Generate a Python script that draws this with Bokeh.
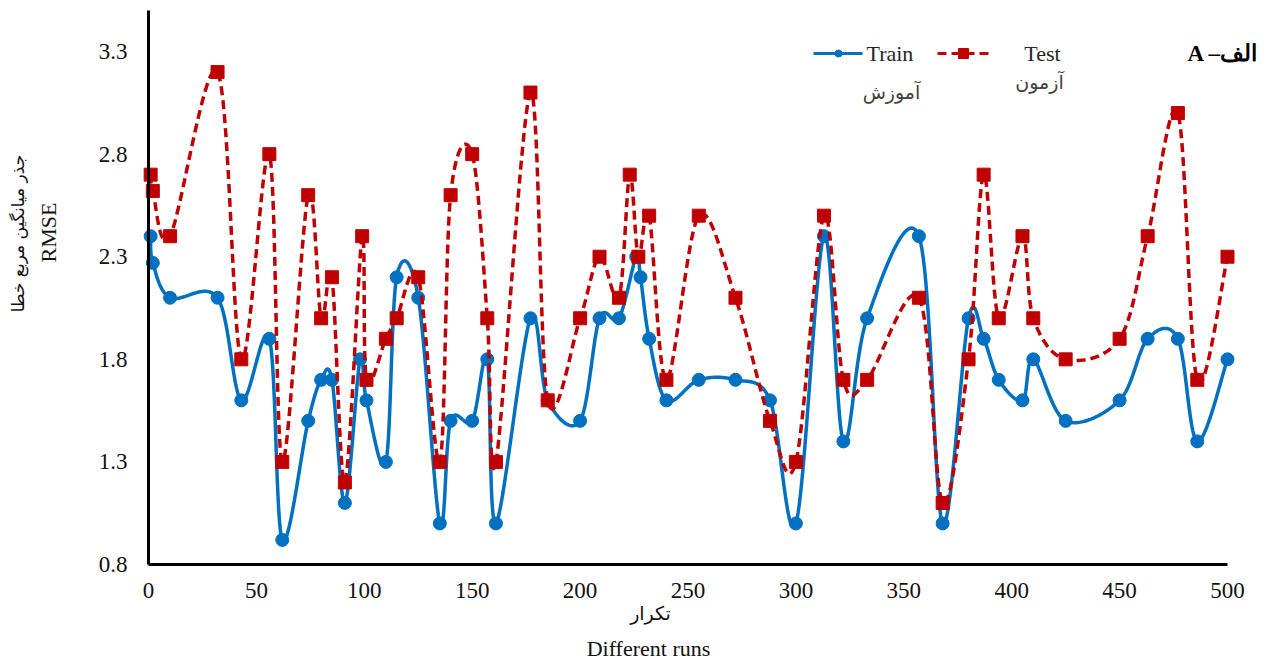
import numpy as np
from bokeh.plotting import figure
from bokeh.models import Range1d, FixedTicker, Label
from bokeh.embed import file_html
from bokeh.resources import INLINE

# ---------------- data ----------------
train_x = [1, 2, 10, 32, 43, 56, 62, 74, 80, 85, 91, 98, 101, 110, 115, 125, 135, 140, 150, 157,
           161, 177, 185, 200, 209, 218, 226, 228, 232, 240, 255, 272, 288, 300, 313, 322, 333, 357, 368, 380,
           387, 394, 405, 410, 425, 450, 463, 477, 486, 500]
train_y = [2.4, 2.27, 2.1, 2.1, 1.6, 1.9, 0.92, 1.5, 1.7, 1.7, 1.1, 1.8, 1.6, 1.3, 2.2, 2.1, 1.0, 1.5, 1.5, 1.8,
           1.0, 2.0, 1.6, 1.5, 2.0, 2.0, 2.3, 2.2, 1.9, 1.6, 1.7, 1.7, 1.6, 1.0, 2.4, 1.4, 2.0, 2.4, 1.0, 2.0,
           1.9, 1.7, 1.6, 1.8, 1.5, 1.6, 1.9, 1.9, 1.4, 1.8]
test_x = [1, 2, 10, 32, 43, 56, 62, 74, 80, 85, 91, 99, 101, 110, 115, 125, 135, 140, 150, 157,
          161, 177, 185, 200, 209, 218, 223, 227, 232, 240, 255, 272, 288, 300, 313, 322, 333, 357, 368, 380,
          387, 394, 405, 410, 425, 450, 463, 477, 486, 500]
test_y = [2.7, 2.62, 2.4, 3.2, 1.8, 2.8, 1.3, 2.6, 2.0, 2.2, 1.2, 2.4, 1.7, 1.9, 2.0, 2.2, 1.3, 2.6, 2.8, 2.0,
          1.3, 3.1, 1.6, 2.0, 2.3, 2.1, 2.7, 2.3, 2.5, 1.7, 2.5, 2.1, 1.5, 1.3, 2.5, 1.7, 1.7, 2.1, 1.1, 1.8,
          2.7, 2.0, 2.4, 2.0, 1.8, 1.9, 2.4, 3.0, 1.7, 2.3]
x_ticks = [0, 50, 100, 150, 200, 250, 300, 350, 400, 450, 500]
y_ticks = [0.8, 1.3, 1.8, 2.3, 2.8, 3.3]
y_tick_labels = ["0.8", "1.3", "1.8", "2.3", "2.8", "3.3"]

series_train = "Train"
series_train_fa = "آموزش"
series_test = "Test"
series_test_fa = "آزمون"
x_title_fa = "تکرار"
x_title = "Different runs"
y_title_fa = "جذر میانگین مربع خطا"
y_title = "RMSE"
panel_label = "A –الف"

# ---------------- style / layout ----------------
BLUE = "#0070C0"
RED = "#C00000"
SERIF = "Liberation Serif"
ARAB = "DejaVu Sans"

X0, X1 = 0, 500          # axis extent
Y0, Y1 = 0.8, 3.5
ORG = 0                  # page offset of the figure (Bokeh page has no body margin)
W, H = 1267, 666         # figure size (whole figure is the frame)
AX_LEFT, AX_RIGHT = 148, 1227   # page pixels of axis extent
AX_TOP, AX_BOTTOM = 10, 564

KX = (X1 - X0) / (AX_RIGHT - AX_LEFT)
KY = (Y1 - Y0) / (AX_BOTTOM - AX_TOP)


def px(page_x):
    return X0 + (page_x - AX_LEFT) * KX


def py(page_y):
    return Y0 + (AX_BOTTOM - page_y) * KY


def smooth(xs, ys, n=24):
    P = np.column_stack([xs, ys]).astype(float)
    out = []
    m = len(P)
    for i in range(m - 1):
        p0 = P[i - 1] if i > 0 else P[i]
        p1, p2 = P[i], P[i + 1]
        p3 = P[i + 2] if i + 2 < m else P[i + 1]
        c1 = p1 + (p2 - p0) / 6.0
        c2 = p2 - (p3 - p1) / 6.0
        t = np.linspace(0, 1, n, endpoint=(i == m - 2))[:, None]
        seg = (1 - t) ** 3 * p1 + 3 * (1 - t) ** 2 * t * c1 + 3 * (1 - t) * t ** 2 * c2 + t ** 3 * p2
        out.append(seg)
    s = np.vstack(out)
    return s[:, 0], s[:, 1]


p = figure(frame_width=W, frame_height=H, output_backend="svg", toolbar_location=None,
           x_range=Range1d(px(ORG), px(ORG + W)), y_range=Range1d(py(ORG + H), py(ORG)),
           min_border=0, min_border_left=0, min_border_right=0, min_border_top=0, min_border_bottom=0)
p.outline_line_color = None
p.grid.visible = False
p.background_fill_color = "white"
p.border_fill_color = "white"

for ax in (p.xaxis[0], p.yaxis[0]):
    ax.axis_line_color = "black"
    ax.axis_line_width = 3
    ax.major_tick_line_color = None
    ax.minor_tick_line_color = None
    ax.major_label_text_font = SERIF
    ax.major_label_text_font_size = "23px"
    ax.major_label_text_color = "#111111"

p.xaxis[0].ticker = FixedTicker(ticks=x_ticks)
p.xaxis[0].bounds = (X0, X1)
p.xaxis[0].fixed_location = Y0
p.xaxis[0].major_label_standoff = 12
p.yaxis[0].ticker = FixedTicker(ticks=y_ticks)
p.yaxis[0].bounds = (Y0, Y1)
p.yaxis[0].fixed_location = X0
p.yaxis[0].major_label_overrides = {t: l for t, l in zip(y_ticks, y_tick_labels)}
p.yaxis[0].major_label_standoff = 15

# Train series
tx, ty = smooth(train_x, train_y)
p.line(tx, ty, line_color=BLUE, line_width=3.5, line_join="round")
p.scatter(train_x, train_y, marker="circle", size=13, fill_color=BLUE, line_color=BLUE)

# Test series
sx, sy = smooth(test_x, test_y)
p.line(sx, sy, line_color=RED, line_width=3.5, line_dash="9 5", line_join="round")
p.scatter(test_x, test_y, marker="square", size=13, fill_color=RED, line_color=RED)

# Legend (manual, Excel-like)
ly = py(53)
p.line([px(813), px(862)], [ly, ly], line_color=BLUE, line_width=3)
p.scatter([px(838)], [ly], marker="circle", size=7, fill_color=BLUE, line_color=BLUE)
p.line([px(937), px(988)], [ly, ly], line_color=RED, line_width=3, line_dash="9 5")
p.scatter([px(963)], [ly], marker="square", size=10, fill_color=RED, line_color=RED)


def lab(text, x, y, font, size, align="center", color="#1a1a1a", angle=0.0, bold=False):
    p.add_layout(Label(x=x, y=y, text=text, text_font=font, text_font_size=size,
                       text_align=align, text_baseline="middle", text_color=color, angle=angle,
                       text_font_style="bold" if bold else "normal"))


lab(series_train, px(866), py(53), SERIF, "22px", align="left", color="#262626")
lab(series_train_fa, px(891), py(91), ARAB, "19px", color="#404040")
lab(series_test, px(1042), py(53), SERIF, "22px", color="#262626")
lab(series_test_fa, px(1039), py(81), ARAB, "19px", color="#404040")
lab(panel_label, px(1187), py(53), SERIF, "23px", align="left", color="black", bold=True)

# axis titles
lab(x_title_fa, px(650), py(612), ARAB, "19px", color="#111111")
lab(x_title, px(648), py(648), SERIF, "22px", color="#111111")
lab(y_title_fa, px(17), py(233), ARAB, "17px", color="#111111", angle=np.pi / 2)
lab(y_title, px(48), py(232), SERIF, "22px", color="#111111", angle=np.pi / 2)

open("out.html", "w").write(file_html(p, INLINE))
